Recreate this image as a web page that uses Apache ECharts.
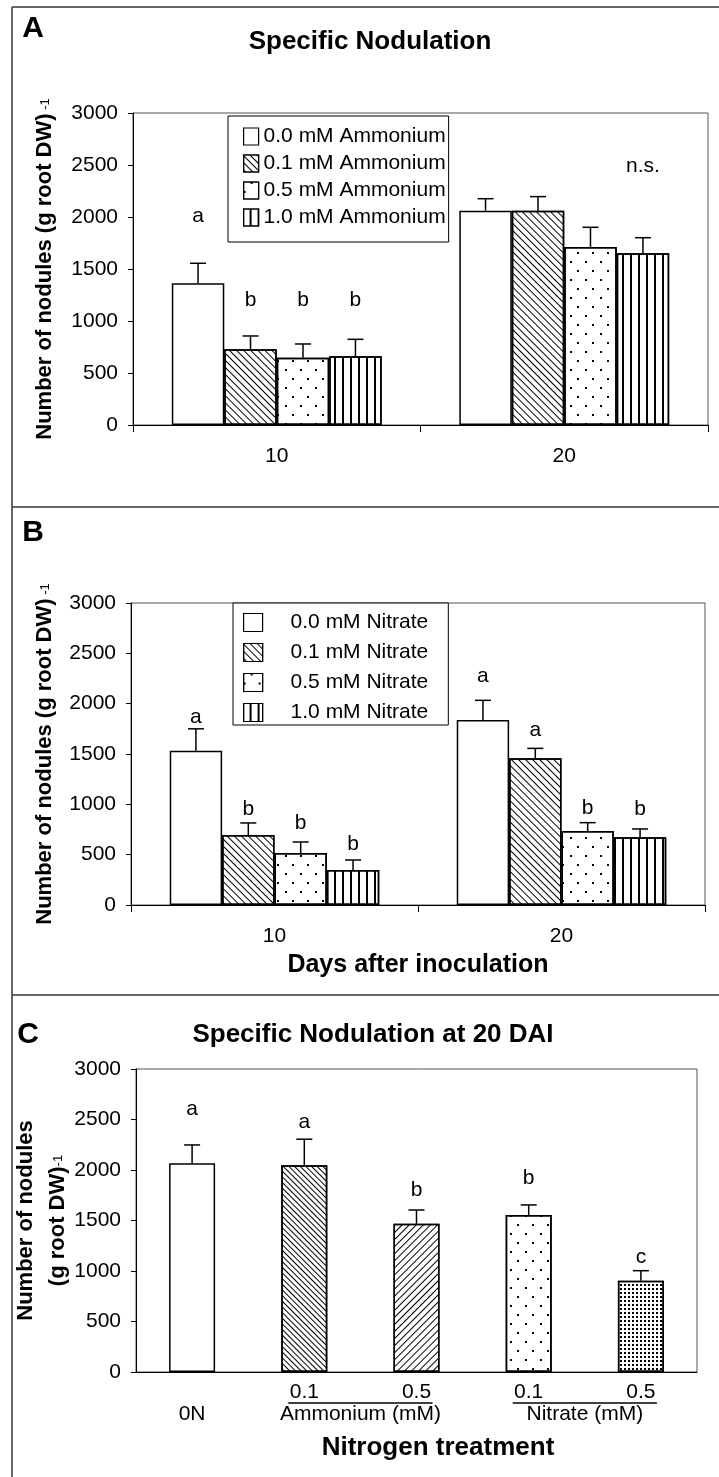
<!DOCTYPE html>
<html>
<head>
<meta charset="utf-8">
<title>Specific Nodulation</title>
<script src="https://cdn.jsdelivr.net/npm/echarts@6/dist/echarts.min.js"></script>
<style>
  html, body { margin: 0; padding: 0; background: #fff; }
  #chart { width: 719px; height: 1477px; }
</style>
</head>
<body>
<div id="chart"></div>
<script>
// ---- values ----
const days = ['10', '20'];
const yTicks = [0, 3000, 500]; // min, max, step

// panel A : ammonium, [level][day]
const ammLevels = ['0.0 mM Ammonium', '0.1 mM Ammonium', '0.5 mM Ammonium', '1.0 mM Ammonium'];
const ammMean = [[1362, 2061], [728, 2061], [647, 1712], [660, 1651]];
const ammSE = [[193, 115], [128, 135], [132, 189], [164, 150]];
const ammLetters = [['a', ''], ['b', ''], ['b', ''], ['b', 'n.s.']];
const ammLetterAt = [[2003, 0], [1202, 0], [1202, 0], [1202, 2493]];

// panel B : nitrate, [level][day]
const nitLevels = ['0.0 mM Nitrate', '0.1 mM Nitrate', '0.5 mM Nitrate', '1.0 mM Nitrate'];
const nitMean = [[1532, 1838], [695, 1457], [517, 735], [348, 672]];
const nitSE = [[218, 195], [120, 99], [109, 83], [99, 83]];
const nitLetters = [['a', 'a'], ['b', 'a'], ['b', 'b'], ['b', 'b']];
const nitLetterAt = [[1864, 2268], [955, 1738], [811, 960], [600, 951]];

// panel C : 20 DAI by treatment
const treatTicks = ['0N', '0.1', '0.5', '0.1', '0.5'];
const treatMean = [2066, 2046, 1468, 1554, 904];
const treatSE = [182, 259, 136, 100, 99];
const treatLetters = ['a', 'a', 'b', 'b', 'c'];
const treatLetterAt = [2598, 2474, 1802, 1917, 1134];
const groupNames = ['0N', 'Ammonium (mM)', 'Nitrate (mM)'];
const groupSpan = [[0, 0], [1, 2], [3, 4]];

// ---- styling ----
const FONT = "'Liberation Sans', Arial, Helvetica, sans-serif";
const BAR_GAP = 0.27;

const fill = {
  hatchDown: { symbol: 'rect', symbolSize: 1, dashArrayX: [1, 0], dashArrayY: [1, 4], rotation: Math.PI / 4, color: '#000' },
  hatchDownDense: { symbol: 'rect', symbolSize: 1, dashArrayX: [1, 0], dashArrayY: [1, 3], rotation: Math.PI / 4, color: '#000' },
  hatchUp: { symbol: 'rect', symbolSize: 1, dashArrayX: [1, 0], dashArrayY: [1, 3.5], rotation: -Math.PI / 4, color: '#000' },
  dots: { symbol: 'rect', symbolSize: 1, dashArrayX: [[1.5, 12.5], [0, 7, 1.5, 5.5]], dashArrayY: [1.5, 6.5], color: '#000' },
  dotsDense: { symbol: 'rect', symbolSize: 1, dashArrayX: [1.2, 1.3], dashArrayY: [1.2, 1.3], color: '#000' },
  vlines: { symbol: 'rect', symbolSize: 1, dashArrayX: [1, 0], dashArrayY: [1.5, 5.5], rotation: Math.PI / 2, color: '#000' }
};
const levelFills = [null, fill.hatchDown, fill.dots, fill.vlines];
const treatFills = [null, fill.hatchDownDense, fill.hatchUp, fill.dots, fill.dotsDense];

function barStyle(decal) {
  const s = { color: '#fff', borderColor: '#000', borderWidth: 1.5 };
  if (decal) s.decal = decal;
  return s;
}

function levelBars(names, means, gi) {
  return names.map((name, k) => ({
    name, type: 'bar', xAxisIndex: gi, yAxisIndex: gi,
    data: means[k], barGap: '0%', barCategoryGap: (BAR_GAP * 100) + '%',
    itemStyle: barStyle(levelFills[k]), silent: true
  }));
}

const lineStyle = { stroke: '#000', lineWidth: 1.5 };
function letterText(x, y, txt) {
  return { type: 'text', x, y, style: { text: txt, fontSize: 21, fontFamily: FONT, fill: '#000', align: 'center', verticalAlign: 'middle', textAlign: 'center', textVerticalAlign: 'middle' } };
}

// error bars (upper only) and significance letters for grouped bars
function levelErrors(means, ses, letters, letterAt, gi) {
  const n = means.length;
  const data = [];
  means.forEach((row, k) => row.forEach((m, c) => data.push([c, m, ses[k][c], k, letterAt[k][c]])));
  return {
    type: 'custom', xAxisIndex: gi, yAxisIndex: gi, clip: false, silent: true, z: 5, data,
    renderItem(params, api) {
      const c = api.value(0), m = api.value(1), se = api.value(2), k = api.value(3);
      const catW = api.size([1, 0])[0];
      const span = catW * (1 - BAR_GAP);
      const x = api.coord([c, 0])[0] - span / 2 + span / n * (k + 0.5);
      const y0 = api.coord([c, m])[1], y1 = api.coord([c, m + se])[1];
      const children = [
        { type: 'line', shape: { x1: x, y1: y0, x2: x, y2: y1 }, style: lineStyle },
        { type: 'line', shape: { x1: x - 8, y1: y1, x2: x + 8, y2: y1 }, style: lineStyle }
      ];
      const txt = letters[k][c];
      if (txt) children.push(letterText(x, api.coord([c, api.value(4)])[1], txt));
      return { type: 'group', children };
    }
  };
}

function yAxisFor(gi, name, nameGap) {
  return {
    gridIndex: gi, type: 'value', min: yTicks[0], max: yTicks[1], interval: yTicks[2],
    axisLine: { show: true, lineStyle: { color: '#000', width: 1 } },
    axisTick: { show: true, length: 5, lineStyle: { color: '#000' } },
    axisLabel: { fontSize: 21, color: '#000', margin: 15, fontFamily: FONT, formatter: v => String(v) },
    splitLine: { show: false },
    name, nameLocation: 'middle', nameGap, nameRotate: 90, nameMoveOverlap: false,
    nameTextStyle: {
      color: '#000', fontFamily: FONT,
      rich: {
        t: { fontSize: 22, fontWeight: 'bold', fontFamily: FONT, color: '#000', lineHeight: 32 },
        s: { fontSize: 13, fontFamily: FONT, color: '#000', verticalAlign: 'middle' }
      }
    }
  };
}

function xAxisDays(gi, extra) {
  return Object.assign({
    gridIndex: gi, type: 'category', data: days,
    axisLine: { lineStyle: { color: '#000', width: 1 } },
    axisTick: { show: true, length: 7, lineStyle: { color: '#000' } },
    axisLabel: { fontSize: 21, color: '#000', margin: 21, fontFamily: FONT }
  }, extra || {});
}

function legendFor(names, left, top, opts) {
  return Object.assign({
    data: names, left, top, orient: 'vertical', icon: 'rect',
    borderColor: '#000', borderWidth: 1, backgroundColor: '#fff', borderRadius: 0,
    selectedMode: false,
    textStyle: { fontSize: 21, fontFamily: FONT, color: '#000' },
    itemStyle: { borderColor: '#000', borderWidth: 1.2 }
  }, opts);
}

function label(x, y, text, size, bold) {
  return {
    type: 'text', x, y, silent: true,
    style: { text, fontSize: size, fontWeight: bold ? 'bold' : 'normal', fontFamily: FONT, fill: '#000',
      align: 'center', verticalAlign: 'middle', textAlign: 'center', textVerticalAlign: 'middle' }
  };
}

function frameLine(x1, y1, x2, y2) {
  return { type: 'line', silent: true, shape: { x1, y1, x2, y2 }, style: { stroke: '#333', lineWidth: 1.5 } };
}

const chart = echarts.init(document.getElementById('chart'), null, { renderer: 'canvas' });

const option = {
  animation: false,
  backgroundColor: '#fff',
  textStyle: { fontFamily: FONT },
  grid: [
    { left: 133, top: 113, width: 575, height: 312, show: true, borderColor: '#555', borderWidth: 1 },
    { left: 131, top: 603, width: 574, height: 302, show: true, borderColor: '#555', borderWidth: 1 },
    { left: 136, top: 1069, width: 561, height: 303, show: true, borderColor: '#555', borderWidth: 1 }
  ],
  legend: [
    legendFor(ammLevels, 228, 116, { itemWidth: 15, itemHeight: 17, itemGap: 6, padding: [10, 3, 14, 15] }),
    legendFor(nitLevels, 233, 603, {
      itemWidth: 19, itemHeight: 18, itemGap: 9, padding: [9, 20, 2, 10],
      textStyle: { fontSize: 21, fontFamily: FONT, color: '#000', padding: [0, 0, 0, 23] }
    })
  ],
  xAxis: [
    xAxisDays(0),
    xAxisDays(1, { name: 'Days after inoculation', nameLocation: 'middle', nameGap: 48, nameMoveOverlap: false,
      nameTextStyle: { fontSize: 25, fontWeight: 'bold', color: '#000', fontFamily: FONT } }),
    {
      gridIndex: 2, type: 'category', data: treatTicks,
      axisLine: { lineStyle: { color: '#000', width: 1 } },
      axisTick: { show: false },
      axisLabel: { fontSize: 21, color: '#000', margin: 10, fontFamily: FONT,
        formatter: (v, i) => (i === 0 ? '' : v) }
    }
  ],
  yAxis: [
    yAxisFor(0, '{t|Number of nodules (g root DW)}{s| -1}', 72),
    yAxisFor(1, '{t|Number of nodules (g root DW)}{s| -1}', 70),
    yAxisFor(2, '{t|Number of nodules}\n{t|(g root DW)}{s|-1}', 62)
  ],
  series: [
    ...levelBars(ammLevels, ammMean, 0),
    levelErrors(ammMean, ammSE, ammLetters, ammLetterAt, 0),
    ...levelBars(nitLevels, nitMean, 1),
    levelErrors(nitMean, nitSE, nitLetters, nitLetterAt, 1),
    {
      type: 'bar', xAxisIndex: 2, yAxisIndex: 2, barCategoryGap: '59%', silent: true,
      data: treatMean.map((v, i) => ({ value: v, itemStyle: barStyle(treatFills[i]) }))
    },
    {
      type: 'custom', xAxisIndex: 2, yAxisIndex: 2, clip: false, silent: true, z: 5,
      data: treatMean.map((m, i) => [i, m, treatSE[i], treatLetterAt[i]]),
      renderItem(params, api) {
        const c = api.value(0), m = api.value(1), se = api.value(2);
        const x = api.coord([c, m])[0];
        const y0 = api.coord([c, m])[1], y1 = api.coord([c, m + se])[1];
        return { type: 'group', children: [
          { type: 'line', shape: { x1: x, y1: y0, x2: x, y2: y1 }, style: lineStyle },
          { type: 'line', shape: { x1: x - 8, y1: y1, x2: x + 8, y2: y1 }, style: lineStyle },
          letterText(x, api.coord([c, api.value(3)])[1], treatLetters[c])
        ] };
      }
    },
    {
      // treatment group names under the axis
      type: 'custom', xAxisIndex: 2, yAxisIndex: 2, clip: false, silent: true,
      data: groupSpan.map((s, g) => [s[0], s[1], g]),
      renderItem(params, api) {
        const a = api.value(0), b = api.value(1), g = api.value(2);
        const pa = api.coord([a, 0]), pb = api.coord([b, 0]);
        const children = [label((pa[0] + pb[0]) / 2, pa[1] + 42, groupNames[g], 21, false)];
        if (a !== b) {
          children.push({ type: 'line', shape: { x1: pa[0] - 16, y1: pa[1] + 31, x2: pb[0] + 16, y2: pa[1] + 31 },
            style: { stroke: '#000', lineWidth: 1.5 } });
        }
        return { type: 'group', children };
      }
    }
  ],
  graphic: [
    frameLine(12, 7, 719, 7),
    frameLine(12, 7, 12, 1477),
    frameLine(12, 507, 719, 507),
    frameLine(12, 995, 719, 995),
    label(33, 29, 'A', 30, true),
    label(33, 533, 'B', 30, true),
    label(28, 1035, 'C', 30, true),
    label(370, 42, 'Specific Nodulation', 26, true),
    label(373, 1035, 'Specific Nodulation at 20 DAI', 26, true),
    label(438, 1448, 'Nitrogen treatment', 26, true)
  ]
};

chart.setOption(option);
</script>
</body>
</html>
